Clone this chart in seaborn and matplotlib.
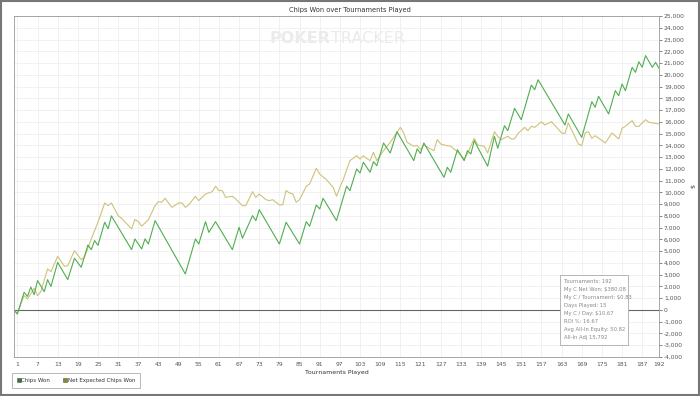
import numpy as np
import pandas as pd
import matplotlib
matplotlib.use("Agg")
import matplotlib.pyplot as plt
import seaborn as sns
from matplotlib.lines import Line2D
from matplotlib.patches import Rectangle

# ---- data (vertices) ----
chips_t = [0, 1, 3, 4, 5, 6, 7, 9, 10, 11, 13, 16, 18, 20, 22, 23, 24, 25, 27, 28, 29,
           35, 36, 38, 39, 40, 42, 51, 54, 55, 57, 58, 60, 65, 67, 68, 71, 72, 73,
           79, 81, 85, 87, 88, 90, 91, 92, 96, 99, 100, 102, 103, 104, 106, 107, 108,
           110, 112, 114, 119, 120, 121, 122, 128, 129, 130, 132, 134, 135, 136, 137,
           141, 143, 144, 146, 147, 149, 151, 154, 155, 156, 164, 165, 169, 172, 173,
           174, 177, 179, 180, 181, 182, 184, 185, 186, 187, 188, 190, 191, 192]
chips_v = [0, -350, 1500, 1150, 1950, 1300, 2500, 1560, 2580, 2000, 4050, 2580, 4400, 3630,
           5530, 5130, 5900, 5500, 7460, 6900, 8000,
           5130, 6040, 5190, 6040, 5610, 7600, 3060, 6040, 5610, 7510, 6600, 7510, 5130,
           7030, 6100, 8020, 7600, 8530,
           5610, 7460, 5610, 7510, 7120, 8930, 8590, 9500, 7600, 10520, 10150, 11990,
           11650, 12560, 11710, 12610, 12270,
           14200, 13350, 15160, 12700, 13700, 13300, 14200, 11280, 12130, 11710, 13630,
           12700, 13550, 13270, 14400,
           12220, 14770, 13750, 15670, 15250, 17150, 16180, 19130, 18730, 19580, 15730,
           16670, 14680, 17710, 17240,
           18170, 16670, 18650, 18220, 19220, 18650, 20640, 20210, 21110, 20640, 21630,
           20640, 21060, 20550]

exp_t = [0, 1, 3, 4, 6, 7, 8, 10, 11, 13, 15, 16, 18, 20, 21, 23, 25, 27, 28, 29, 31, 32,
         35, 36, 37, 38, 40, 42, 43, 44, 45, 46, 47, 49, 50, 51, 52, 54, 55, 57, 59, 60,
         61, 62, 63, 65, 66, 68, 69, 71, 72, 73, 75, 76, 77, 79, 80, 81, 82, 83, 84, 85,
         87, 88, 90, 91, 93, 95, 96, 97, 98, 100, 102, 103, 104, 105, 106, 107, 108, 109,
         110, 112, 115, 116, 117, 119, 120, 121, 122, 124, 125, 126, 127, 128, 130, 132,
         134, 135, 137, 138, 140, 141, 143, 144, 145, 147, 148, 149, 150, 152, 153, 154,
         155, 157, 158, 160, 162, 163, 164, 165, 168, 169, 170, 171, 172, 173, 176, 178,
         180, 181, 182, 184, 185, 186, 188, 189, 192]
exp_v = [0, -300, 1220, 940, 1850, 1220, 1560, 3490, 3260, 4560, 3710, 3770, 5040, 4280,
         4480, 6040, 7460, 9100, 8870, 9100, 8020, 7800,
         6900, 7700, 7510, 7120, 7680, 8870, 9210, 9160, 9500, 9100, 8730, 9100, 9100,
         8730, 8930, 9670, 9300, 9860, 10060, 10520,
         10150, 10150, 9580, 9670, 9440, 8870, 8870, 10060, 9580, 9860, 9380, 9300, 9380,
         8930, 8950, 10150, 9950, 9870, 9160, 9380,
         10520, 10710, 12050, 11560, 11080, 10430, 9670, 10430, 11080, 12700, 13120,
         12840, 13120, 12880, 12700, 13410, 12700, 13120,
         13550, 14260, 15530, 15050, 14260, 13920, 14000, 13630, 14030, 13690, 13550,
         14490, 14120, 14030, 13920, 13460,
         12840, 13300, 14600, 14030, 13920, 13350, 15160, 14770, 14490, 14770, 14540,
         14540, 15000, 15530, 15250, 15620,
         15530, 16000, 15730, 16010, 15390, 15050, 15000, 15900, 14120, 13970, 15050,
         15160, 14600, 14820, 14200, 15050,
         14540, 15450, 15620, 16100, 15620, 15620, 16180, 15960, 15820]

series_names = ["Chips Won", "Net Expected Chips Won"]
x_ticks = [1, 7, 13, 19, 25, 31, 37, 43, 49, 55, 61, 67, 73, 79, 85, 91, 97, 103, 109,
           115, 121, 127, 133, 139, 145, 151, 157, 163, 169, 175, 181, 187, 192]
y_ticks = list(range(-4000, 25001, 1000))

stats_lines = ["Tournaments: 192", "My C Net Won: $380.08", "My C / Tournament: $0.83",
               "Days Played: 15", "My C / Day: $10.67", "ROI %: 16.67",
               "Avg All-In Equity: 50.82", "All-In Adj 15,792"]

df = pd.concat([
    pd.DataFrame({"t": chips_t, "v": chips_v, "series": series_names[0]}),
    pd.DataFrame({"t": exp_t, "v": exp_v, "series": series_names[1]}),
])

sns.set_style("white")
plt.rcParams["font.family"] = ["DejaVu Sans"]

line_colors = {"Chips Won": "#4fae4f", "Net Expected Chips Won": "#cfc27a"}
legend_colors = {"Chips Won": "#2e7d32", "Net Expected Chips Won": "#8c8a1e"}

fig = plt.figure(figsize=(7.0, 3.96), dpi=100)
ax = fig.add_axes([14 / 700, 1 - 357 / 396, 645 / 700, 341 / 396])

ax.set_xlim(0, 192)
ax.set_ylim(-4000, 25000)
ax.set_xticks(x_ticks)
ax.set_yticks(y_ticks)
ax.grid(True, color="#ececec", linewidth=0.5)
ax.set_axisbelow(True)
ax.axhline(0, color="#666666", linewidth=0.8, zorder=1.5)

sns.lineplot(data=df, x="t", y="v", hue="series", hue_order=series_names[::-1],
             palette=line_colors, linewidth=0.8, ax=ax, legend=False, sort=False,
             estimator=None, zorder=2)

ax.yaxis.tick_right()
ax.yaxis.set_label_position("right")
ax.set_yticklabels([f"{v:,}" for v in y_ticks])
ax.tick_params(axis="both", labelsize=4.3, colors="#555555", length=2, width=0.5, pad=1.5)
ax.set_xlabel("Tournaments Played", fontsize=4.5, color="#333333", labelpad=2)
ax.set_ylabel("$", fontsize=4.5, color="#333333", rotation=270, labelpad=6)
for s in ax.spines.values():
    s.set_color("#999999")
    s.set_linewidth(0.6)

fig.text(0.5, 1 - 10 / 396, "Chips Won over Tournaments Played", ha="center",
         va="center", fontsize=4.8, color="#333333")

# watermark
ax.text(0.49, 0.935, "POKER", transform=ax.transAxes, ha="right", va="center",
        fontsize=11.5, fontweight="bold", color="#ebebeb", zorder=0.5)
ax.text(0.492, 0.935, "TRACKER", transform=ax.transAxes, ha="left", va="center",
        fontsize=11.5, color="#ebebeb", zorder=0.5)

# stats box
bx0, bx1 = (560 - 14) / 645, (628 - 14) / 645
by0, by1 = (357 - 345) / 341, (357 - 275) / 341
ax.add_patch(Rectangle((bx0, by0), bx1 - bx0, by1 - by0, transform=ax.transAxes,
                       facecolor="white", edgecolor="#aaaaaa", linewidth=0.6, zorder=3))
ax.text(bx0 + 0.006, by1 - 0.012, "\n".join(stats_lines), transform=ax.transAxes,
        ha="left", va="top", fontsize=3.8, color="#888888", linespacing=1.75, zorder=4)

# legend
handles = [Line2D([], [], linestyle="none", marker="s", markersize=3.2,
                  markerfacecolor=legend_colors[n], markeredgecolor="#555555",
                  markeredgewidth=0.4) for n in series_names]
leg = fig.legend(handles, series_names, loc="lower left",
                 bbox_to_anchor=(12 / 700, 1 - 388 / 396), ncol=2, fontsize=4.0,
                 frameon=True, fancybox=False, edgecolor="#999999",
                 handletextpad=0.1, columnspacing=2.3, borderpad=0.9,
                 handlelength=0.7, borderaxespad=0)
leg.get_frame().set_linewidth(0.6)
for t in leg.get_texts():
    t.set_color("#333333")

# figure border
fig.add_artist(Rectangle((0.001, 0.002), 0.997, 0.995, transform=fig.transFigure,
                         fill=False, edgecolor="#777777", linewidth=1.5))

fig.savefig("out.png", dpi=100)
